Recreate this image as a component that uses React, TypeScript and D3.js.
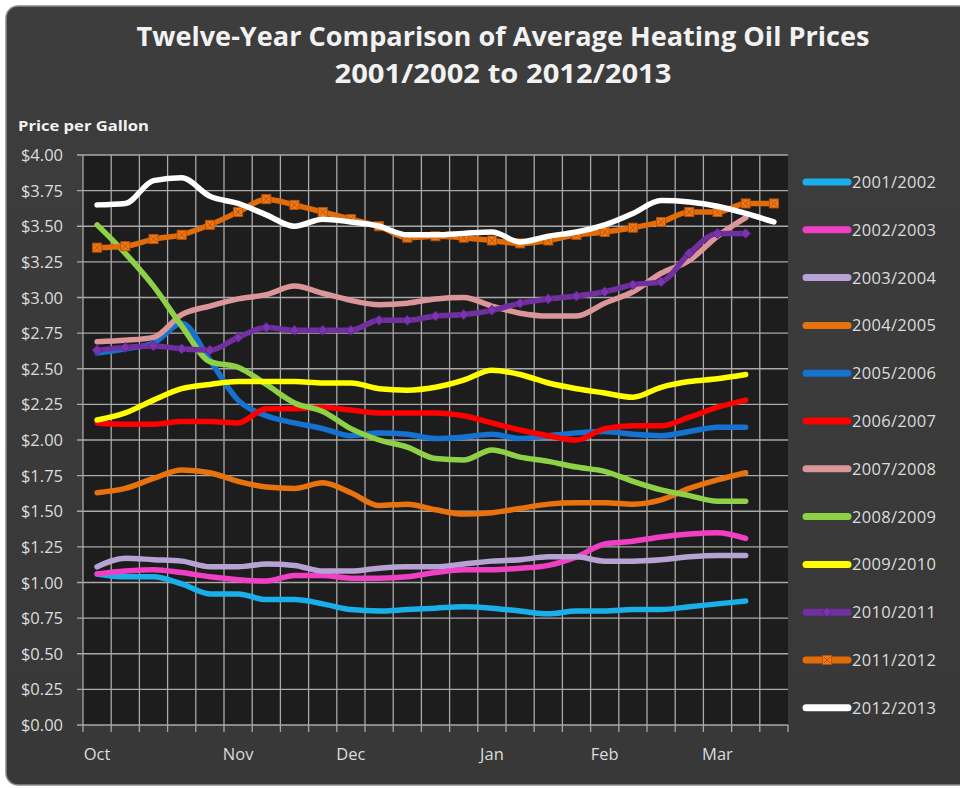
import * as d3 from "d3"

// weekly heating oil averages, Oct -> Mar (25 weeks)
const weekLabels = ["Oct", "", "", "", "", "Nov", "", "", "", "Dec", "", "", "", "", "Jan", "", "", "", "Feb", "", "", "", "Mar", "", ""]
const yTicks = [0, 0.25, 0.5, 0.75, 1, 1.25, 1.5, 1.75, 2, 2.25, 2.5, 2.75, 3, 3.25, 3.5, 3.75, 4]

const seasonNames = ["2001/2002", "2002/2003", "2003/2004", "2004/2005", "2005/2006", "2006/2007", "2007/2008", "2008/2009", "2009/2010", "2010/2011", "2011/2012", "2012/2013"]
const seasonColors = ["#19b0ea", "#f03fc3", "#b7a3d3", "#e8730e", "#1672d0", "#ff0000", "#da9699", "#8fd146", "#ffff00", "#7030a0", "#e36c0a", "#ffffff"]

const s0102 = [1.06, 1.04, 1.04, 0.99, 0.92, 0.92, 0.88, 0.88, 0.85, 0.81, 0.8, 0.81, 0.82, 0.83, 0.82, 0.8, 0.78, 0.8, 0.8, 0.81, 0.81, 0.83, 0.85, 0.87]
const s0203 = [1.06, 1.08, 1.09, 1.07, 1.04, 1.02, 1.01, 1.05, 1.05, 1.03, 1.03, 1.04, 1.07, 1.09, 1.09, 1.1, 1.12, 1.18, 1.27, 1.29, 1.32, 1.34, 1.35, 1.31]
const s0304 = [1.11, 1.17, 1.16, 1.15, 1.11, 1.11, 1.13, 1.12, 1.08, 1.08, 1.1, 1.11, 1.11, 1.13, 1.15, 1.16, 1.18, 1.18, 1.15, 1.15, 1.16, 1.18, 1.19, 1.19]
const s0405 = [1.63, 1.66, 1.73, 1.79, 1.77, 1.71, 1.67, 1.66, 1.7, 1.63, 1.54, 1.55, 1.51, 1.48, 1.49, 1.52, 1.55, 1.56, 1.56, 1.55, 1.58, 1.66, 1.72, 1.77]
const s0506 = [2.61, 2.64, 2.68, 2.82, 2.56, 2.28, 2.17, 2.12, 2.08, 2.03, 2.05, 2.04, 2.01, 2.02, 2.04, 2.01, 2.03, 2.05, 2.06, 2.04, 2.03, 2.06, 2.09, 2.09]
const s0607 = [2.12, 2.11, 2.11, 2.13, 2.13, 2.12, 2.22, 2.22, 2.23, 2.21, 2.19, 2.19, 2.19, 2.17, 2.12, 2.07, 2.03, 2.0, 2.08, 2.1, 2.1, 2.16, 2.23, 2.28]
const s0708 = [2.69, 2.7, 2.72, 2.88, 2.94, 2.99, 3.02, 3.08, 3.03, 2.98, 2.95, 2.96, 2.99, 3.0, 2.94, 2.89, 2.87, 2.87, 2.96, 3.04, 3.17, 3.26, 3.43, 3.56]
const s0809 = [3.51, 3.31, 3.08, 2.8, 2.55, 2.51, 2.39, 2.26, 2.2, 2.08, 2.0, 1.95, 1.87, 1.86, 1.93, 1.88, 1.85, 1.81, 1.78, 1.71, 1.65, 1.61, 1.57, 1.57]
const s0910 = [2.14, 2.19, 2.28, 2.36, 2.39, 2.41, 2.41, 2.41, 2.4, 2.4, 2.36, 2.35, 2.37, 2.42, 2.49, 2.46, 2.4, 2.36, 2.33, 2.3, 2.37, 2.41, 2.43, 2.46]
const s1011 = [2.63, 2.65, 2.66, 2.64, 2.63, 2.72, 2.79, 2.77, 2.77, 2.77, 2.84, 2.84, 2.87, 2.88, 2.91, 2.96, 2.99, 3.01, 3.04, 3.09, 3.11, 3.31, 3.45, 3.45]
const s1112 = [3.35, 3.36, 3.41, 3.44, 3.51, 3.6, 3.69, 3.65, 3.6, 3.55, 3.5, 3.42, 3.43, 3.42, 3.4, 3.38, 3.4, 3.44, 3.46, 3.49, 3.53, 3.6, 3.6, 3.66, 3.66]
const s1213 = [3.65, 3.66, 3.82, 3.84, 3.71, 3.66, 3.58, 3.5, 3.55, 3.53, 3.5, 3.44, 3.44, 3.45, 3.46, 3.39, 3.43, 3.46, 3.51, 3.59, 3.68, 3.67, 3.64, 3.59, 3.53]

const seasonValues = [s0102, s0203, s0304, s0405, s0506, s0607, s0708, s0809, s0910, s1011, s1112, s1213]

const W = 960
const H = 788
const PLOT = { left: 83, top: 155, right: 788, bottom: 725 }
const FONT = "'Open Sans', 'DejaVu Sans', sans-serif"
const TEXT = "#dcdcdc"

function Marker({ kind, x, y }: { kind: string; x: number; y: number }) {
    if (kind === "diamond") {
        return <path d={`M${x},${y - 5}L${x + 5},${y}L${x},${y + 5}L${x - 5},${y}Z`} fill="#7a35ad" stroke="#5c2086" strokeWidth={1} />
    }
    if (kind === "square") {
        return (
            <g>
                <rect x={x - 4.5} y={y - 4.5} width={9} height={9} fill="#f07a18" stroke="#b85208" strokeWidth={1} />
                <path d={`M${x - 3},${y - 3}L${x + 3},${y + 3}M${x + 3},${y - 3}L${x - 3},${y + 3}`} stroke="#b85208" strokeWidth={1} />
            </g>
        )
    }
    return null
}

function markerKind(i: number) {
    if (i === 9) return "diamond"
    if (i === 10) return "square"
    return ""
}

export default function App() {
    const x = d3.scaleBand<number>()
        .domain(d3.range(weekLabels.length))
        .range([PLOT.left, PLOT.right])
        .padding(0)
    const y = d3.scaleLinear().domain([0, 4]).range([PLOT.bottom, PLOT.top])
    const bw = x.bandwidth()
    const cx = (i: number) => (x(i) as number) + bw / 2

    const line = d3.line<number>()
        .x((_, i) => cx(i))
        .y(d => y(d))
        .curve(d3.curveMonotoneX)

    const boundaries = d3.range(weekLabels.length + 1).map(k => PLOT.left + k * bw)

    return (
        <div style={{ position: "absolute", left: 0, top: 0 }}>
            <svg width={W} height={H} style={{ display: "block", background: "#ffffff" }} fontFamily={FONT}>
                <defs>
                    <linearGradient id="panelFill" x1="0" y1="0" x2="0" y2="1">
                        <stop offset="0%" stopColor="#3d3d3d" />
                        <stop offset="100%" stopColor="#383838" />
                    </linearGradient>
                </defs>
                <rect x={6} y={6} width={W + 20} height={H - 9} rx={12} fill="url(#panelFill)" stroke="#8a8a8a" strokeWidth={1.5} />

                <text x={503} y={46} textAnchor="middle" fontSize={27} fontWeight={700} fill="#f2f2f2" textLength={733} lengthAdjust="spacingAndGlyphs">
                    Twelve-Year Comparison of Average Heating Oil Prices
                </text>
                <text x={503} y={83} textAnchor="middle" fontSize={27} fontWeight={700} fill="#f2f2f2" textLength={337} lengthAdjust="spacingAndGlyphs">
                    2001/2002 to 2012/2013
                </text>
                <text x={18} y={131} fontSize={14} fontWeight={700} fill="#f2f2f2" textLength={131} lengthAdjust="spacingAndGlyphs">
                    Price per Gallon
                </text>

                <rect x={PLOT.left} y={PLOT.top} width={PLOT.right - PLOT.left} height={PLOT.bottom - PLOT.top} fill="#1d1d1d" />

                {yTicks.map(t => (
                    <g key={"y" + t}>
                        <line x1={PLOT.left - 6} x2={PLOT.right} y1={y(t)} y2={y(t)} stroke="#a9a9a9" strokeWidth={1.3} />
                        <text x={63} y={y(t) + 6} textAnchor="end" fontSize={16.5} fill={TEXT}>
                            {d3.format("$.2f")(t)}
                        </text>
                    </g>
                ))}
                {boundaries.map((bx, k) => (
                    <line key={"v" + k} x1={bx} x2={bx} y1={k < weekLabels.length ? PLOT.top : PLOT.bottom} y2={PLOT.bottom + 7} stroke="#a9a9a9" strokeWidth={1.3} />
                ))}
                {weekLabels.map((lab, i) => lab ? (
                    <text key={"x" + i} x={cx(i)} y={760} textAnchor="middle" fontSize={16.5} fill={TEXT}>{lab}</text>
                ) : null)}

                {seasonValues.map((vals, si) => (
                    <g key={seasonNames[si]}>
                        <path d={line(vals) || ""} fill="none" stroke={seasonColors[si]} strokeWidth={5.5} strokeLinejoin="round" strokeLinecap="round" />
                        {markerKind(si) && vals.map((v, i) => (
                            <Marker key={i} kind={markerKind(si)} x={cx(i)} y={y(v)} />
                        ))}
                    </g>
                ))}

                {seasonNames.map((name, i) => {
                    const ly = 182 + i * 47.8
                    return (
                        <g key={"lg" + name}>
                            <line x1={806} x2={848} y1={ly} y2={ly} stroke={seasonColors[i]} strokeWidth={7} strokeLinecap="round" />
                            {markerKind(i) && <Marker kind={markerKind(i)} x={827} y={ly} />}
                            <text x={852} y={ly + 6} fontSize={16.5} fill={TEXT} letterSpacing={0.3}>{name}</text>
                        </g>
                    )
                })}
            </svg>
        </div>
    )
}
